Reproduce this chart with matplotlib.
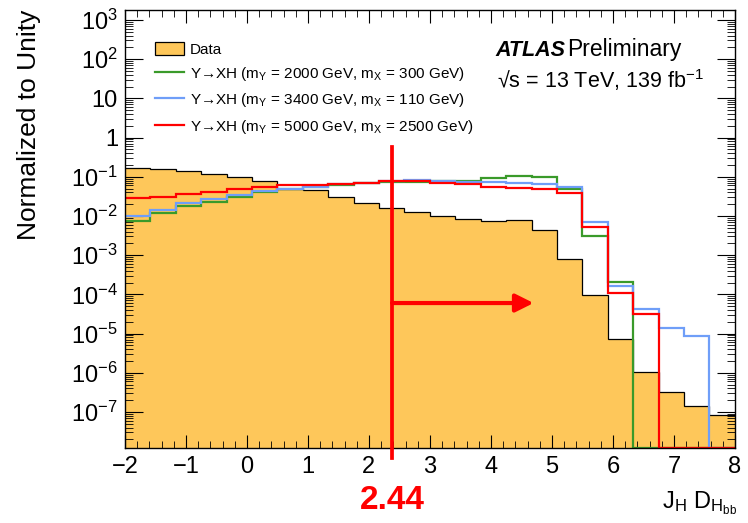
import numpy as np
import matplotlib
matplotlib.use("Agg")
import matplotlib.pyplot as plt
from matplotlib.lines import Line2D
from matplotlib.patches import Patch
from matplotlib.ticker import FixedLocator, LogLocator, MultipleLocator, NullFormatter
import matplotlib.transforms as mtransforms

plt.rcParams['font.family'] = ['Liberation Sans', 'DejaVu Sans']
plt.rcParams['mathtext.fontset'] = 'custom'
plt.rcParams['mathtext.rm'] = 'Liberation Sans'
plt.rcParams['mathtext.it'] = 'Liberation Sans:italic'
plt.rcParams['mathtext.bf'] = 'Liberation Sans:bold'

# 24 bins from -2 to 8
EDGES = np.linspace(-2, 8, 25)
CUT_LABEL = '2.44'
CUT_X = 2.38   # where the line sits in the picture
YMIN, YMAX = 1.2e-8, 1.8e3

data = [0.165, 0.156, 0.142, 0.121, 0.100, 0.079, 0.048, 0.046, 0.031, 0.021, 0.0155, 0.0125,
        0.0098, 0.0082, 0.0075, 0.0080, 0.0044, 7.8e-4, 9.8e-5, 7.3e-6, 1.07e-6, 3.2e-7, 1.4e-7, 8.1e-8]
sig_2000_300 = [0.0075, 0.012, 0.018, 0.023, 0.031, 0.040, 0.048, 0.054, 0.062, 0.068, 0.074, 0.072,
                0.078, 0.079, 0.091, 0.105, 0.098, 0.049, 0.0030, 2.1e-4, 0, 0, 0, 0]
sig_3400_110 = [0.0097, 0.014, 0.021, 0.027, 0.035, 0.043, 0.050, 0.055, 0.064, 0.070, 0.079, 0.085,
                0.079, 0.074, 0.072, 0.070, 0.066, 0.055, 0.0072, 1.6e-4, 4.2e-5, 1.4e-5, 8.7e-6, 0]
sig_5000_2500 = [0.028, 0.031, 0.036, 0.042, 0.048, 0.055, 0.062, 0.062, 0.066, 0.071, 0.077, 0.080,
                 0.068, 0.065, 0.055, 0.053, 0.048, 0.039, 0.0052, 1.1e-4, 3.2e-5, 0, 0, 0]

labels = [r'Y→XH (m$_\mathregular{Y}$ = 2000 GeV, m$_\mathregular{X}$ = 300 GeV)',
          r'Y→XH (m$_\mathregular{Y}$ = 3400 GeV, m$_\mathregular{X}$ = 110 GeV)',
          r'Y→XH (m$_\mathregular{Y}$ = 5000 GeV, m$_\mathregular{X}$ = 2500 GeV)']
colors = ['#3a9a2a', '#6f9ef8', '#ff0000']
DATA_COLOR = '#fec75a'

fig = plt.figure(figsize=(7.48, 5.23), dpi=100)
ax = fig.add_axes([0.167, 0.1434, 0.8155, 0.8375])

ax.stairs(data, EDGES, fill=True, color=DATA_COLOR, baseline=1e-12, zorder=1)
ax.stairs(data, EDGES, color='black', lw=0.9, baseline=None, zorder=1.5)
for vals, c in zip([sig_2000_300, sig_3400_110, sig_5000_2500], colors):
    v = np.clip(np.array(vals), YMIN, None)
    ax.stairs(v, EDGES, color=c, lw=1.6, baseline=None, zorder=2)

ax.set_yscale('log')
ax.set_xlim(-2, 8)
ax.set_ylim(YMIN, YMAX)

# ticks, ROOT style
ax.xaxis.set_major_locator(MultipleLocator(1))
ax.xaxis.set_minor_locator(MultipleLocator(0.2))
ax.yaxis.set_major_locator(FixedLocator([10.0**k for k in range(-7, 4)]))
ax.yaxis.set_minor_locator(LogLocator(base=10, subs=np.arange(2, 10), numticks=30))
ax.yaxis.set_minor_formatter(NullFormatter())
ylabs = []
for k in range(-7, 4):
    if k == 0:
        ylabs.append('1')
    elif k == 1:
        ylabs.append('10')
    else:
        ylabs.append(r'10$^{\mathregular{%d}}$' % k)
ax.set_yticklabels(ylabs)
ax.tick_params(which='both', direction='in', top=True, right=True, labelsize=17, colors='black')
ax.tick_params(axis='x', which='major', length=9.5, pad=6)
ax.tick_params(axis='x', which='minor', length=5)
ax.tick_params(axis='y', which='major', length=13, pad=5)
ax.tick_params(axis='y', which='minor', length=6)
for s in ax.spines.values():
    s.set_linewidth(1.0)

fig.text(0.039, 0.981, 'Normalized to Unity', rotation=90, ha='center', va='top', fontsize=19)
fig.text(0.885, 0.028, r'J$_\mathregular{H}$ D$_{\mathregular{H}_{\mathregular{bb}}}$',
         ha='left', va='baseline', fontsize=17)

# cut line and arrow
trans = mtransforms.blended_transform_factory(ax.transData, ax.transAxes)
ax.plot([CUT_X, CUT_X], [-0.023, 0.687], color='red', lw=2.7, transform=trans, clip_on=False, zorder=5)
ax.annotate('', xy=(4.7, 6e-5), xytext=(CUT_X, 6e-5),
            arrowprops=dict(arrowstyle='-|>,head_length=0.6,head_width=0.3', color='red', lw=3,
                            shrinkA=0, shrinkB=0, mutation_scale=18), zorder=5)
ax.text(CUT_X, -0.12, CUT_LABEL, transform=trans, color='red', fontsize=24, fontweight='bold',
        ha='center', va='center')

# ATLAS label
fig.text(0.662, 0.892, 'ATLAS', fontsize=15.5, fontweight='bold', fontstyle='italic', va='baseline')
fig.text(0.758, 0.892, 'Preliminary', fontsize=16.5, va='baseline')
fig.text(0.664, 0.832, r'√s = 13 TeV, 139 fb$^{\mathregular{-1}}$', fontsize=15.5, va='baseline')

handles = [Patch(facecolor=DATA_COLOR, edgecolor='black', lw=0.9)]
handles += [Line2D([], [], color=c, lw=1.6) for c in colors]
ax.legend(handles, ['Data'] + labels, loc='upper left', bbox_to_anchor=(0.05, 0.928),
          frameon=False, fontsize=11, handlelength=1.85, handleheight=1.0,
          handletextpad=0.4, labelspacing=0.55, borderaxespad=0, borderpad=0)

fig.savefig('out.png', dpi=100)
